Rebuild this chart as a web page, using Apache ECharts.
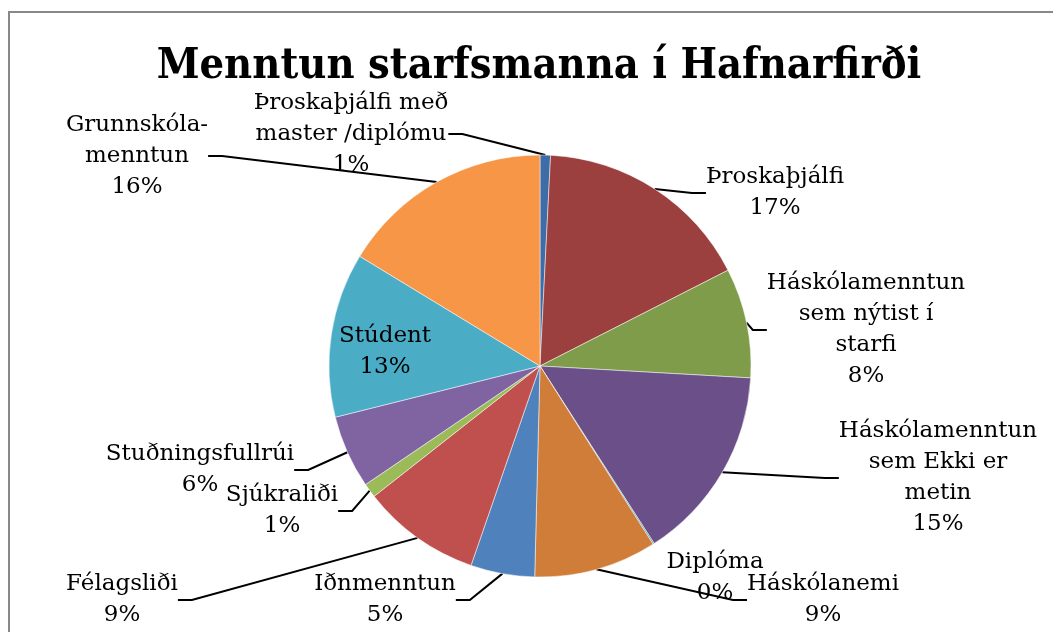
<!DOCTYPE html>
<html>
<head>
<meta charset="utf-8">
<script src="https://cdn.jsdelivr.net/npm/echarts@6/dist/echarts.min.js"></script>
<style>
  html, body { margin: 0; padding: 0; background: #fff; }
  #chart { width: 1053px; height: 632px; }
</style>
</head>
<body>
<div id="chart"></div>
<script>
// gögn lesin af myndinni (hlutfall í %)
const flokkar = [
  "Þroskaþjálfi með\nmaster /diplómu",
  "Þroskaþjálfi",
  "Háskólamenntun\nsem nýtist í\nstarfi",
  "Háskólamenntun\nsem Ekki er\nmetin",
  "Diplóma",
  "Háskólanemi",
  "Iðnmenntun",
  "Félagsliði",
  "Sjúkraliði",
  "Stuðningsfullrúi",
  "Stúdent",
  "Grunnskóla-\nmenntun"
];
const gildi = [0.8, 16.7, 8.4, 15.0, 0.1, 9.4, 4.9, 9.1, 1.1, 5.6, 12.6, 16.3];

const litir = [
  "#3d6ca6", "#9b403e", "#7f9c4b", "#6a4f88", "#3c97ae", "#d07d39",
  "#4f81bd", "#c0504d", "#9bbb59", "#8064a2", "#4bacc6", "#f79646"
];

// staðsetning merkja (miðja textablokkar)
const merkjaStadir = [
  [351, 134], [775, 193], [866, 330], [938, 478], [715, 578], [823, 600],
  [385, 600], [122, 600], [282, 511], [200, 470], [385, 352], [137, 156]
];
const enginLina = [4, 10];

const myChart = echarts.init(document.getElementById("chart"));

const gognRod = flokkar.map((nafn, i) => ({
  name: nafn,
  value: gildi[i],
  itemStyle: { color: litir[i] },
  labelLine: { show: !enginLina.includes(i) }
}));

const option = {
  backgroundColor: "#fff",
  animation: false,
  title: {
    text: "Menntun starfsmanna í Hafnarfirði",
    left: 534,
    top: 40,
    textAlign: "center",
    textStyle: {
      fontFamily: "'DejaVu Serif Condensed', 'DejaVu Serif', serif",
      fontWeight: "bold",
      fontSize: 43,
      color: "#000"
    }
  },
  graphic: [
    {
      type: "polyline",
      shape: { points: [[9, 632], [9, 12], [1053, 12]] },
      style: { stroke: "#888", lineWidth: 2, fill: null }
    }
  ],
  series: [
    {
      type: "pie",
      center: [540, 366],
      radius: 211,
      startAngle: 90,
      clockwise: true,
      avoidLabelOverlap: false,
      percentPrecision: 0,
      itemStyle: { borderColor: "#fff", borderWidth: 0.5 },
      label: {
        show: true,
        position: "outside",
        formatter: "{b}\n{d}%",
        fontFamily: "'DejaVu Serif', serif",
        fontSize: 23,
        lineHeight: 31,
        color: "#000",
        align: "center"
      },
      labelLine: {
        show: true,
        length: 10,
        length2: 14,
        smooth: false,
        lineStyle: { color: "#000", width: 2 }
      },
      labelLayout: function (params) {
        const p = merkjaStadir[params.dataIndex];
        return {
          x: p[0],
          y: p[1],
          align: "center",
          verticalAlign: "middle",
          hideOverlap: false
        };
      },
      emphasis: { disabled: true },
      data: gognRod
    }
  ]
};

myChart.setOption(option);
</script>
</body>
</html>
